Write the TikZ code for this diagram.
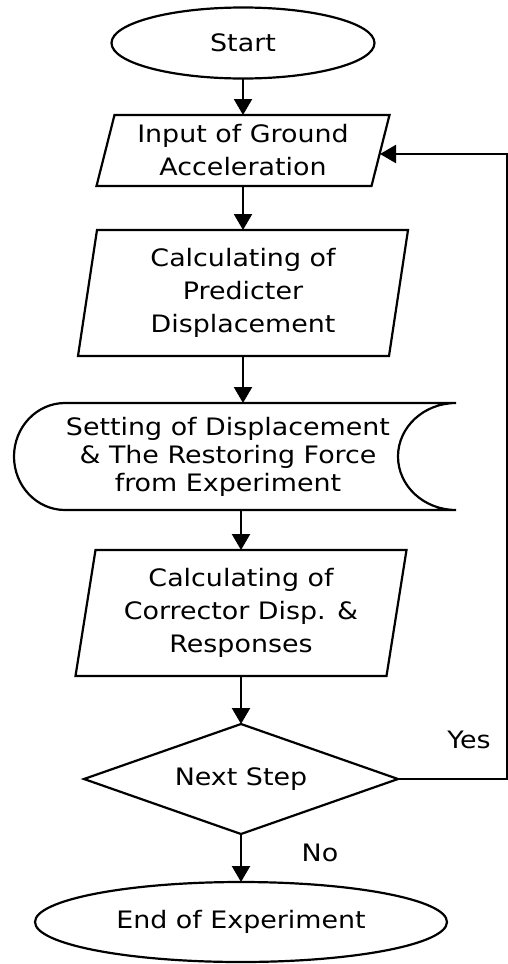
\documentclass[tikz,border=0pt]{standalone}
\usepackage{fontspec}
\setmainfont[FakeStretch=1.12]{DejaVu Sans}
\usetikzlibrary{arrows.meta,shapes.geometric}
\begin{document}
\begin{tikzpicture}[x=1pt,y=-1pt,line width=2.2pt,
  every node/.style={font=\fontsize{24}{33}\selectfont,align=center,inner sep=0pt,outer sep=0pt},
  term/.style={ellipse,draw},
  textbox/.style={rectangle,draw=none},
  arr/.style={-{Triangle[length=16pt,width=18pt]}}]
\useasboundingbox (0,0) rectangle (508,964);
% nodes
\node[term,minimum width=263pt,minimum height=71pt] (start) at (243,43) {Start};
\node[textbox,minimum width=275pt,minimum height=71pt] (inp) at (243,150.5) {Input of Ground\\Acceleration};
\node[textbox,minimum width=311pt,minimum height=126pt] (pred) at (243,293) {Calculating of\\Predicter\\Displacement};
\node[textbox,minimum width=428pt,minimum height=107pt,font=\fontsize{24}{28}\selectfont] (sto) at (228,456.5) {Setting of Displacement\\\& The Restoring Force\\from Experiment};
\node[textbox,minimum width=311pt,minimum height=126pt] (corr) at (241,613) {Calculating of\\Corrector Disp. \&\\Responses};
\node[textbox,minimum width=314pt,minimum height=110pt] (dec) at (241,779) {Next Step};
\node[term,minimum width=412pt,minimum height=80pt] (stop) at (241,922) {End of Experiment};
\node (yes) at (469,739.5) {Yes};
\node (no) at (320,853) {No};
% outlines
\draw ([xshift=9pt]inp.north west) -- ([xshift=9pt]inp.north east) -- ([xshift=-9pt]inp.south east) -- ([xshift=-9pt]inp.south west) -- cycle;
\draw ([xshift=9.5pt]pred.north west) -- ([xshift=9.5pt]pred.north east) -- ([xshift=-9.5pt]pred.south east) -- ([xshift=-9.5pt]pred.south west) -- cycle;
\draw ([xshift=10pt]corr.north west) -- ([xshift=10pt]corr.north east) -- ([xshift=-10pt]corr.south east) -- ([xshift=-10pt]corr.south west) -- cycle;
\draw ([xshift=51pt]sto.north west) -- ([xshift=14pt]sto.north east) arc[start angle=270,end angle=90,x radius=58,y radius=53.5] -- ([xshift=51pt]sto.south west) arc[start angle=90,end angle=270,x radius=51,y radius=53.5] -- cycle;
\draw (dec.north) -- (dec.east) -- (dec.south) -- (dec.west) -- cycle;
% connectors
\coordinate (fbin) at (380,154);
\coordinate (rc) at (507,0);
\draw[arr] (start.south) -- (inp.north);
\draw[arr] (inp.south) -- (pred.north);
\draw[arr] (pred.south) -- (pred.south |- sto.north);
\draw[arr] (corr.north |- sto.south) -- (corr.north);
\draw[arr] (corr.south) -- (dec.north);
\draw[arr] (dec.south) -- (stop.north);
\draw[arr] (dec.east) -| (rc |- fbin) -- (fbin);
\end{tikzpicture}
\end{document}
